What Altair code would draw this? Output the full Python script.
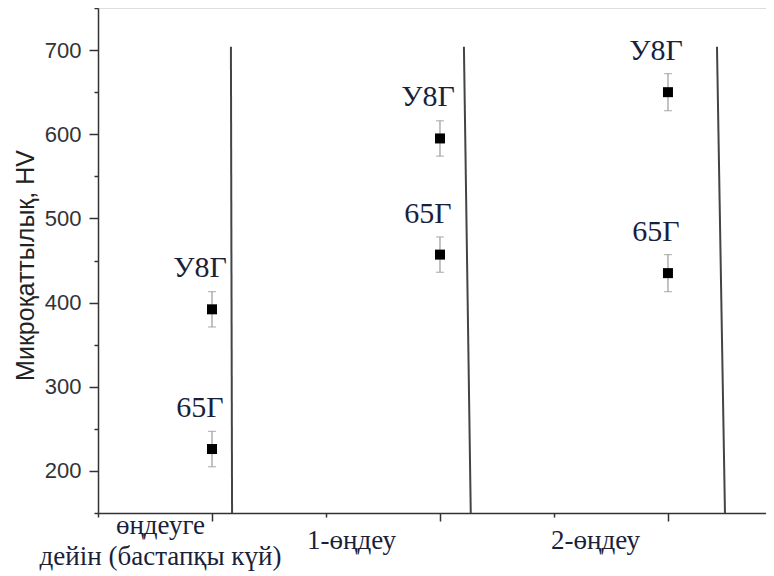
import altair as alt
import pandas as pd

# data
stages = [1, 2, 3]
stage_names = ["өңдеуге дейін (бастапқы күй)", "1-өңдеу", "2-өңдеу"]
u8g_values = [392, 595, 650]
u8g_err = [21, 21, 22]
g65_values = [226, 457, 435]
g65_err = [21, 21, 22]
steels = ["У8Г", "65Г"]

# separator lines (drawn between stages, slightly slanted)
sep_x_top = [1.083, 2.105, 3.215]
sep_x_bottom = [1.088, 2.135, 3.25]
sep_y_top = 704
sep_y_bottom = 150

rows = []
for i, s in enumerate(stages):
    rows.append({"stage": s, "steel": steels[0], "value": u8g_values[i],
                 "lo": u8g_values[i] - u8g_err[i], "hi": u8g_values[i] + u8g_err[i]})
    rows.append({"stage": s, "steel": steels[1], "value": g65_values[i],
                 "lo": g65_values[i] - g65_err[i], "hi": g65_values[i] + g65_err[i]})
df = pd.DataFrame(rows)

sep = pd.DataFrame({"x": sep_x_top, "x2": sep_x_bottom,
                    "y": [sep_y_top] * 3, "y2": [sep_y_bottom] * 3})

xscale = alt.Scale(domain=[0.5, 3.43], nice=False, zero=False)
yscale = alt.Scale(domain=[150, 750], nice=False, zero=False)

label_expr = ("datum.value == 1 ? ['өңдеуге', 'дейін (бастапқы күй)'] : "
              "datum.value == 2 ? '1-өңдеу' : datum.value == 3 ? '2-өңдеу' : ''")

x_axis = alt.Axis(
    values=[0.5, 1, 1.5, 2, 2.5, 3],
    labelExpr=label_expr,
    title=None,
    grid=False,
    labelFont="Liberation Serif",
    labelFontSize=27,
    labelColor="#1a1f3a",
    labelPadding={"condition": {"test": "datum.value == 1", "value": -9}, "value": 6},
    labelLineHeight=31,
    labelLimit=0,
    labelOffset={"condition": [
        {"test": "datum.value == 1", "value": -52},
        {"test": "datum.value == 2", "value": -89},
    ], "value": -73},
    tickSize={"condition": {"test": "datum.value % 1 == 0", "value": 8}, "value": 4},
    tickColor="#333",
    tickWidth=1.5,
    domainColor="#333",
    domainWidth=1.5,
    labelFlush=False,
    labelOverlap=False,
)

y_axis = alt.Axis(
    values=list(range(150, 751, 50)),
    labelExpr="datum.value % 100 == 0 ? datum.label : ''",
    title="Микроқаттылық, HV",
    titleFont="Liberation Sans",
    titleFontSize=25,
    titleFontWeight="normal",
    titleColor="#222",
    titleAngle=-90,
    titleX=-73,
    titleY=257,
    titleAlign="center",
    titleBaseline="middle",
    grid=False,
    labelFont="Liberation Sans",
    labelFontSize=22,
    labelColor="#333",
    labelPadding=8,
    tickSize={"condition": {"test": "datum.value % 100 == 0", "value": 9}, "value": 4},
    tickColor="#333",
    tickWidth=1.5,
    domainColor="#333",
    domainWidth=1.5,
)

base = alt.Chart(df)

sep_lines = alt.Chart(sep).mark_rule(color="#444", strokeWidth=2).encode(
    x=alt.X("x:Q", scale=xscale, axis=x_axis),
    x2="x2:Q",
    y=alt.Y("y:Q", scale=yscale, axis=y_axis),
    y2="y2:Q",
)

err_rule = base.mark_rule(color="#9a9a9a", strokeWidth=1.2).encode(
    x=alt.X("stage:Q", scale=xscale),
    y=alt.Y("lo:Q", scale=yscale),
    y2="hi:Q",
)
cap_lo = base.mark_tick(color="#9a9a9a", thickness=1.2, size=8, orient="horizontal").encode(
    x=alt.X("stage:Q", scale=xscale),
    y=alt.Y("lo:Q", scale=yscale),
)
cap_hi = base.mark_tick(color="#9a9a9a", thickness=1.2, size=8, orient="horizontal").encode(
    x=alt.X("stage:Q", scale=xscale),
    y=alt.Y("hi:Q", scale=yscale),
)
points = base.mark_point(shape="square", filled=True, color="black", size=100, opacity=1).encode(
    x=alt.X("stage:Q", scale=xscale),
    y=alt.Y("value:Q", scale=yscale),
)
labels = base.mark_text(
    font="Liberation Serif", fontSize=30, color="#1a1f3a",
    align="center", baseline="alphabetic", dx=-12, dy=-32,
).encode(
    x=alt.X("stage:Q", scale=xscale),
    y=alt.Y("value:Q", scale=yscale),
    text="steel:N",
)

chart = alt.layer(sep_lines, err_rule, cap_lo, cap_hi, points, labels).properties(
    width=668,
    height=505,
    autosize=alt.AutoSizeParams(type="none"),
    padding={"left": 90, "top": 0, "right": 0, "bottom": 60},
).configure_view(stroke=None).configure(background="white")

chart.save("out.html", embed_options={"renderer": "svg", "actions": False})
